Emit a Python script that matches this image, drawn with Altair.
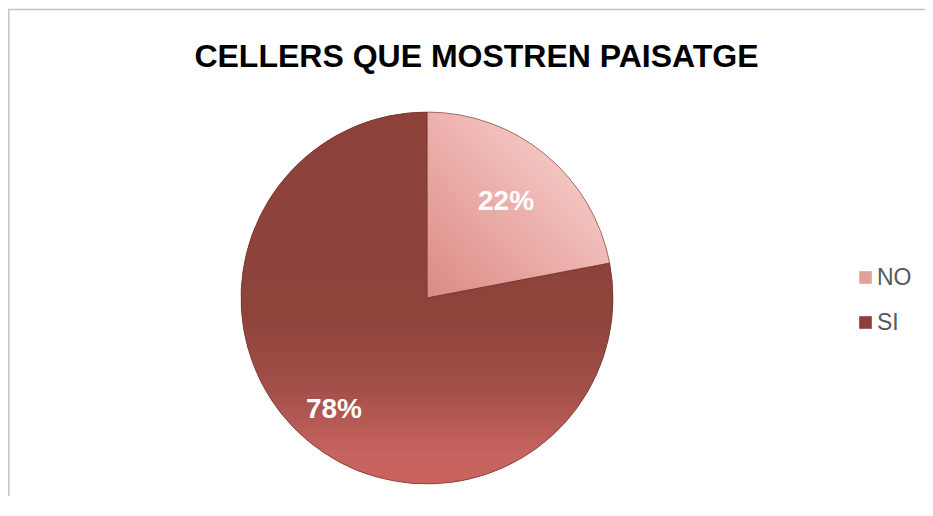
import altair as alt
import pandas as pd

categories = ["NO", "SI"]
values = [22, 78]
labels = ["22%", "78%"]
legend_colors = ["#E3A19C", "#8E3F3A"]

df = pd.DataFrame({
    "cat": categories,
    "val": values,
    "label": labels,
    "idx": list(range(len(categories))),
})

CX, CY, R = 419, 290, 186

g_no = alt.LinearGradient(
    gradient="linear", x1=1, y1=0, x2=0, y2=1,
    stops=[alt.GradientStop(offset=0, color="#FADCDA"),
           alt.GradientStop(offset=0.5, color="#EDB2AE"),
           alt.GradientStop(offset=1, color="#DC8A84")],
)
g_si = alt.LinearGradient(
    gradient="linear", x1=0.5, y1=0, x2=0.5, y2=1,
    stops=[alt.GradientStop(offset=0, color="#8C423A"),
           alt.GradientStop(offset=0.55, color="#8E433B"),
           alt.GradientStop(offset=0.75, color="#A4504A"),
           alt.GradientStop(offset=0.92, color="#C7645F"),
           alt.GradientStop(offset=1, color="#C9625D")],
)

base = alt.Chart(df).encode(
    theta=alt.Theta("val:Q", stack=True),
    order=alt.Order("idx:O"),
    x=alt.value(CX),
    y=alt.value(CY),
)

arc_legend = base.mark_arc(radius=R).encode(
    color=alt.Color(
        "cat:N",
        scale=alt.Scale(domain=categories, range=legend_colors),
        legend=alt.Legend(
            title=None, orient="none", legendX=846, legendY=258,
            symbolType="square", symbolSize=160, symbolStrokeWidth=0,
            labelFontSize=23, labelFont="Liberation Sans", labelColor="#595959",
            labelOffset=0, rowPadding=21,
        ),
    )
)

arc_grad = base.mark_arc(radius=R, stroke="#6E2E2A", strokeWidth=1, strokeOpacity=0.6).encode(
    fill=alt.condition(alt.datum.cat == "NO", alt.value(g_no), alt.value(g_si))
)

text = base.mark_text(
    radius=alt.expr("datum.cat === 'NO' ? 124 : 146"),
    font="Liberation Sans", fontSize=28, fontWeight="bold", color="white",
).encode(text="label:N")

border_data = alt.Data(values=[{"k": 1}])
border_top = alt.Chart(border_data).mark_rule(color="#C4C4C4", strokeWidth=1.5).encode(
    x=alt.value(0), x2=alt.value(917), y=alt.value(1.5)
)
border_left = alt.Chart(border_data).mark_rule(color="#C4C4C4", strokeWidth=1.5).encode(
    x=alt.value(0.75), y=alt.value(1), y2=alt.value(488)
)

chart = alt.layer(arc_legend, arc_grad, text, border_top, border_left).properties(
    width=917,
    height=488,
    autosize=alt.AutoSizeParams(type="none"),
    padding=0,
    title=alt.Title(
        "CELLERS QUE MOSTREN PAISATGE",
        font="Liberation Sans", fontSize=32, fontWeight="bold", color="black",
        anchor="middle", baseline="alphabetic", offset=0, dy=91, dx=10,
    ),
).configure_view(strokeWidth=0)

chart.save("out.html", embed_options={"renderer": "svg", "actions": False})
